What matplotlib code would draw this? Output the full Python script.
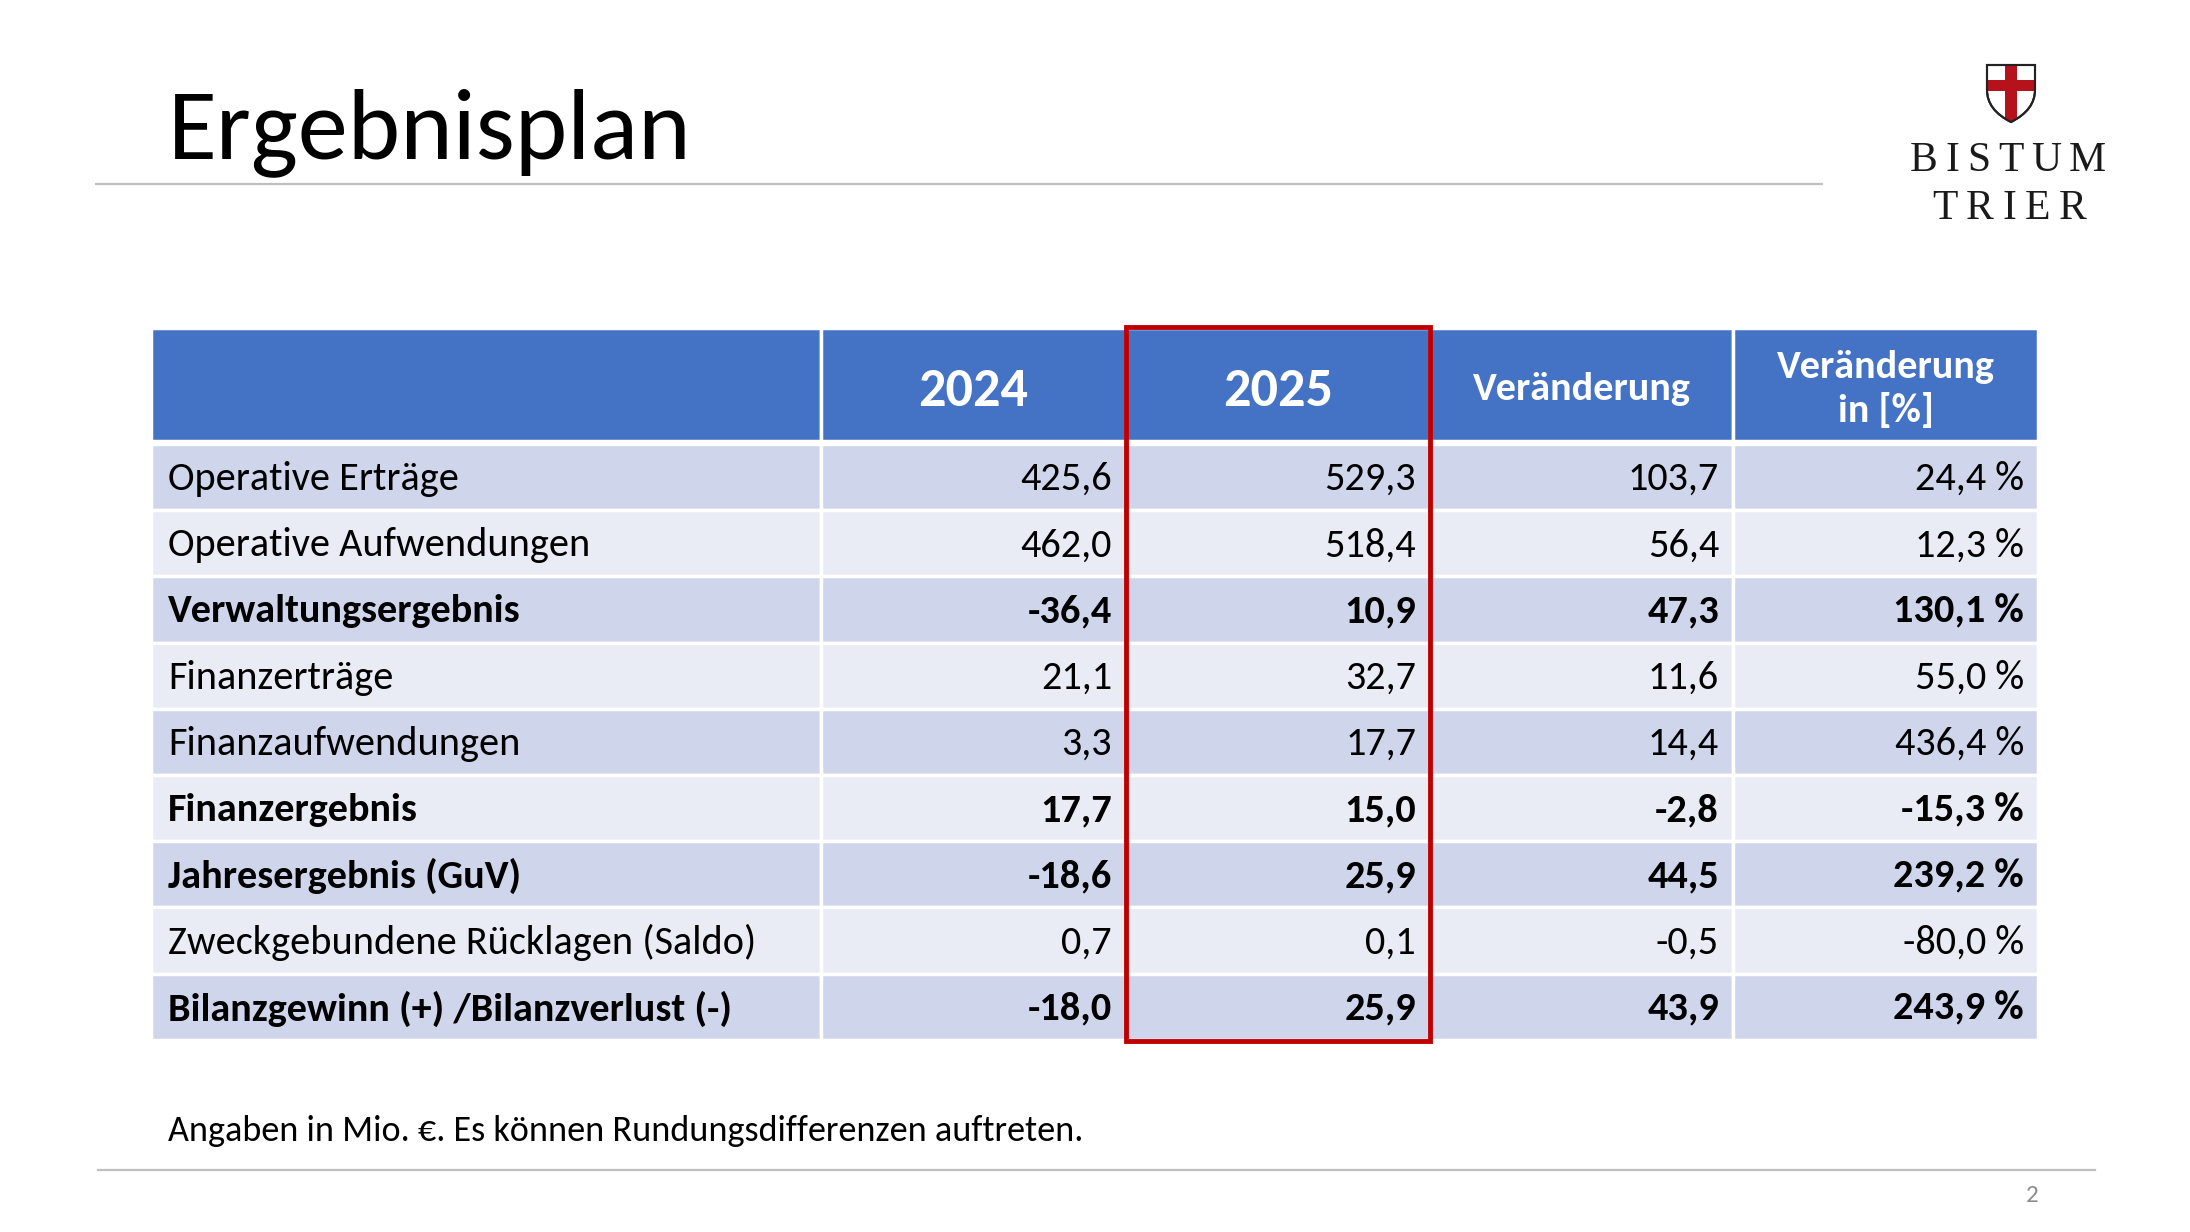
import matplotlib
matplotlib.use("Agg")
import matplotlib.pyplot as plt
from matplotlib import font_manager
from matplotlib.patches import Rectangle, PathPatch
from matplotlib.path import Path

names = {f.name for f in font_manager.fontManager.ttflist}
SANS = next((n for n in ["Carlito", "Lato", "Open Sans", "DejaVu Sans"] if n in names), "DejaVu Sans")
SERIF = next((n for n in ["Liberation Serif", "DejaVu Serif"] if n in names), "DejaVu Serif")

# ---- data ----
title = "Ergebnisplan"
col_headers = ["", "2024", "2025", "Veränderung", "Veränderung\nin [%]"]
row_labels = ["Operative Erträge", "Operative Aufwendungen", "Verwaltungsergebnis",
              "Finanzerträge", "Finanzaufwendungen", "Finanzergebnis",
              "Jahresergebnis (GuV)", "Zweckgebundene Rücklagen (Saldo)",
              "Bilanzgewinn (+) /Bilanzverlust (-)"]
v2024 = [425.6, 462.0, -36.4, 21.1, 3.3, 17.7, -18.6, 0.7, -18.0]
v2025 = [529.3, 518.4, 10.9, 32.7, 17.7, 15.0, 25.9, 0.1, 25.9]
change = [103.7, 56.4, 47.3, 11.6, 14.4, -2.8, 44.5, -0.5, 43.9]
pct = [24.4, 12.3, 130.1, 55.0, 436.4, -15.3, 239.2, -80.0, 243.9]
bold_rows = [False, False, True, False, False, True, True, False, True]
footnote = "Angaben in Mio. €. Es können Rundungsdifferenzen auftreten."
page_no = "2"
logo_lines = ["BISTUM", "TRIER"]

# ---- layout (pixels) ----
W, H = 2190, 1232
fig = plt.figure(figsize=(W / 100, H / 100), dpi=100)
ax = fig.add_axes([0, 0, 1, 1])
ax.set_xlim(0, W)
ax.set_ylim(H, 0)
ax.axis("off")

BLUE = "#4472C4"
ROW_A = "#CFD5EA"
ROW_B = "#E9EBF5"
RED = "#C00000"

col_edges = [151, 821, 1126, 1430, 1733, 2038]
head_top, head_bot = 328, 441
row_top, row_h = 444, 66.2
BODY = 29

def fmt(v):
    return f"{v:.1f}".replace(".", ",")

# title
ax.text(168, 158, title, fontsize=72, family=SANS, ha="left", va="baseline", color="black")
ax.plot([95, 1823], [184, 184], color="#BFBFBF", lw=1.6, solid_capstyle="butt")

# header
for i in range(5):
    x0, x1 = col_edges[i], col_edges[i + 1]
    ax.add_patch(Rectangle((x0, head_top), x1 - x0, head_bot - head_top,
                           facecolor=BLUE, edgecolor="white", lw=2.5))
    cx = (x0 + x1) / 2
    hdr = col_headers[i]
    if hdr in ("2024", "2025"):
        ax.text(cx, 391, hdr, fontsize=39, fontweight="bold", family=SANS, color="white",
                ha="center", va="center")
    elif hdr:
        ax.text(cx, 389, hdr, fontsize=29, fontweight="bold", family=SANS, color="white",
                ha="center", va="center", linespacing=1.3)

# body
for r, lab in enumerate(row_labels):
    y0 = row_top + r * row_h
    fc = ROW_A if r % 2 == 0 else ROW_B
    fw = "bold" if bold_rows[r] else "normal"
    yc = y0 + row_h / 2 + 2
    for i in range(5):
        x0, x1 = col_edges[i], col_edges[i + 1]
        ax.add_patch(Rectangle((x0, y0), x1 - x0, row_h, facecolor=fc,
                               edgecolor="white", lw=2.5))
    ax.text(168, yc, lab, fontsize=BODY, fontweight=fw, family=SANS, ha="left", va="center")
    vals = [fmt(v2024[r]), fmt(v2025[r]), fmt(change[r]), fmt(pct[r]) + " %"]
    for j, s in enumerate(vals):
        ax.text(col_edges[j + 2] - 14, yc, s, fontsize=BODY, fontweight=fw, family=SANS,
                ha="right", va="center")

# red highlight box around 2025 column
ax.add_patch(Rectangle((col_edges[2], 327), col_edges[3] - col_edges[2],
                       row_top + 9 * row_h - 327 + 1, facecolor="none",
                       edgecolor=RED, lw=3.5))

# footnote and footer
ax.text(168, 1131, footnote, fontsize=26, family=SANS, ha="left", va="center")
ax.plot([98, 2095], [1170, 1170], color="#BFBFBF", lw=1.6)
ax.text(2032, 1195, page_no, fontsize=18, family=SANS, color="#8C8C8C", ha="center", va="center")

# logo: shield with red cross
sx0, sx1, sy0, sy1 = 1987, 2035, 65, 122
mx = (sx0 + sx1) / 2
verts = [(sx0, sy0), (sx1, sy0), (sx1, sy0 + 25), (sx1, sy1 - 12), (mx, sy1),
         (sx0, sy1 - 12), (sx0, sy0 + 25), (sx0, sy0)]
codes = [Path.MOVETO, Path.LINETO, Path.LINETO, Path.CURVE3, Path.CURVE3,
         Path.CURVE3, Path.CURVE3, Path.CLOSEPOLY]
shield = PathPatch(Path(verts, codes), facecolor="white", edgecolor="#222222", lw=1.5, zorder=5)
ax.add_patch(shield)
cross_v = Rectangle((mx - 6, sy0 + 1), 12, sy1 - sy0 - 2, facecolor="#B5121B", edgecolor="none", zorder=6)
cross_h = Rectangle((sx0 + 1, sy0 + 15), sx1 - sx0 - 2, 11, facecolor="#B5121B", edgecolor="none", zorder=6)
ax.add_patch(cross_v)
ax.add_patch(cross_h)
cross_v.set_clip_path(shield)
cross_h.set_clip_path(shield)
ax.add_patch(PathPatch(Path(verts, codes), facecolor="none", edgecolor="#222222", lw=1.5, zorder=7))

renderer = fig.canvas.get_renderer()

def spaced(text, x0, x1, y):
    arts = [ax.text(0, y, ch, fontsize=30, family=SERIF, color="#1a1a1a",
                    ha="left", va="baseline") for ch in text]
    widths = [a.get_window_extent(renderer).width for a in arts]
    gap = (x1 - x0 - sum(widths)) / (len(text) - 1)
    x = x0
    for a, w in zip(arts, widths):
        a.set_x(x)
        x += w + gap

spaced(logo_lines[0], 1910, 2106, 171)
spaced(logo_lines[1], 1932, 2086, 219)

fig.savefig("out.png", dpi=100)
